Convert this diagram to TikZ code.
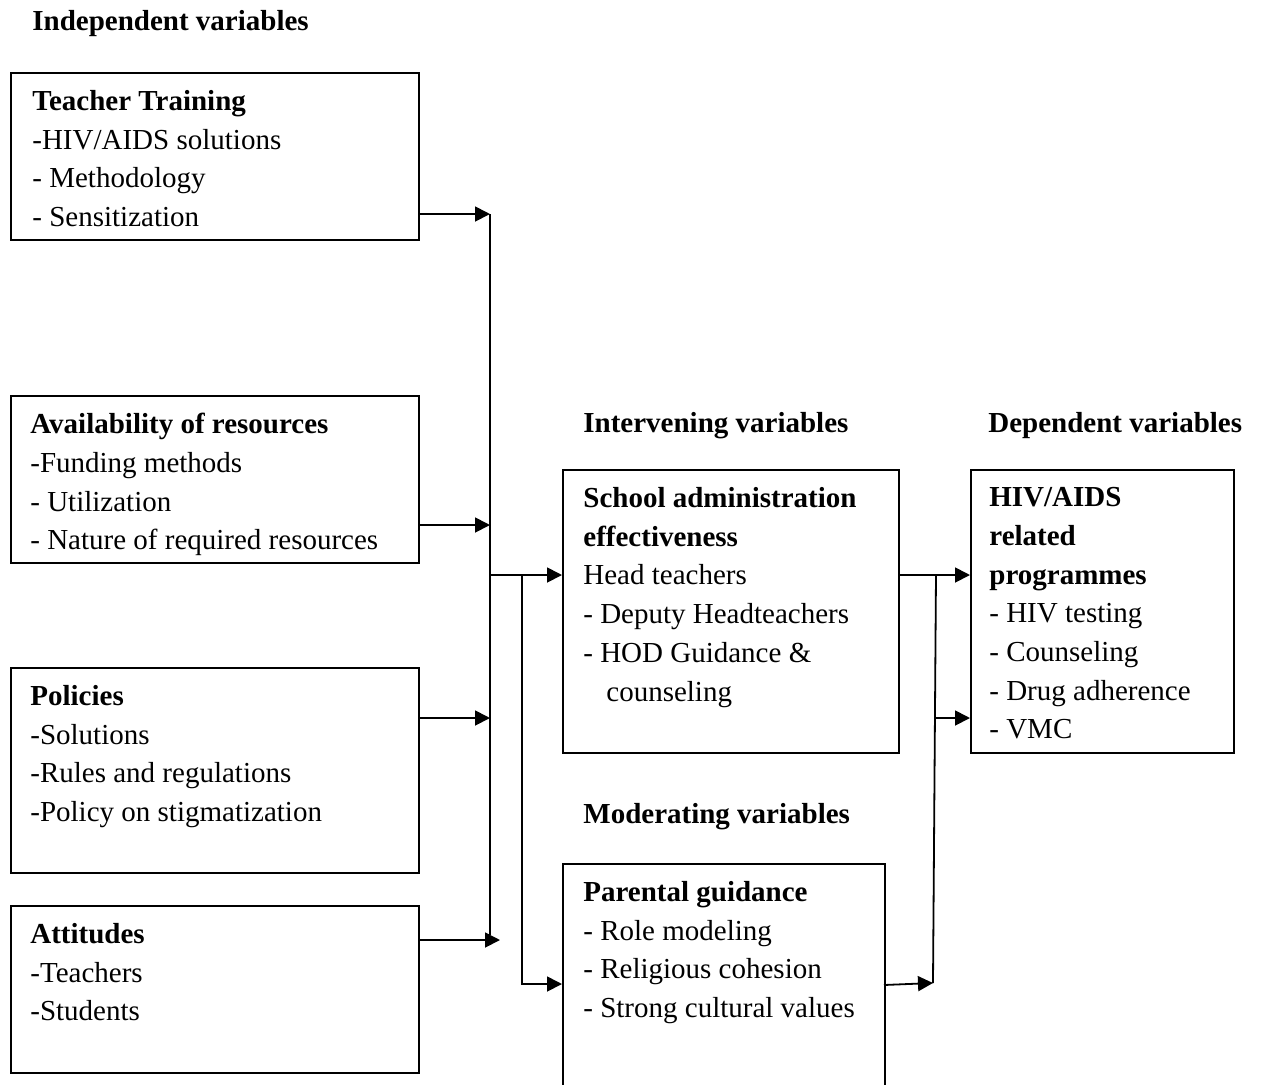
\documentclass[tikz,border=0pt]{standalone}
\usepackage{fontspec}
\setmainfont{Liberation Serif}
\usetikzlibrary{arrows.meta,positioning,calc}
\newcommand{\diagfont}{\fontsize{14.5}{19.35}\selectfont}

\begin{document}
\begin{tikzpicture}[
    x=0.5pt, y=-0.5pt,
    font=\diagfont,
    varbox/.style={rectangle, draw, line width=0.9pt, anchor=north west, inner sep=0pt},
    vartext/.style={anchor=north west, align=left, inner sep=0pt},
    heading/.style={anchor=base west, inner sep=0pt, font=\diagfont\bfseries},
    flow/.style={-{Triangle[length=7.5pt, width=7.5pt]}, line width=0.9pt},
    bus/.style={line width=0.9pt}
]
\clip (0,0) rectangle (1266,1084);

% Column headings
\node[heading] (indep) at (32,30) {Independent variables};
\node[heading] (interv) at (583,432) {Intervening variables};
\node[heading] (depend) at (988,432) {Dependent variables};
\node[heading] (moder) at (583,823) {Moderating variables};

% Independent variable boxes
\node[varbox, minimum width=204pt, minimum height=83.5pt] (train) at (10,72) {};
\node[varbox, minimum width=204pt, minimum height=83.5pt] (avail) at (10,395) {};
\node[varbox, minimum width=204pt, minimum height=102.5pt] (policy) at (10,667) {};
\node[varbox, minimum width=204pt, minimum height=83.5pt] (attit) at (10,905) {};

\node[vartext] (traintxt) at ([shift={(22,18)}]train.north west)
    {\textbf{Teacher Training}\\-HIV/AIDS solutions\\- Methodology\\- Sensitization};
\node[vartext] (availtxt) at ([shift={(20,18)}]avail.north west)
    {\textbf{Availability of resources}\\-Funding methods\\- Utilization\\- Nature of required resources};
\node[vartext] (policytxt) at ([shift={(20,18)}]policy.north west)
    {\textbf{Policies}\\-Solutions\\-Rules and regulations\\-Policy on stigmatization};
\node[vartext] (attittxt) at ([shift={(20,18)}]attit.north west)
    {\textbf{Attitudes}\\-Teachers\\-Students};

% Intervening, moderating and dependent boxes
\node[varbox, minimum width=168pt, minimum height=141.5pt] (admin) at (562,469) {};
\node[varbox, minimum width=161pt, minimum height=125pt] (parent) at (562,863) {};
\node[varbox, minimum width=131.5pt, minimum height=141.5pt] (prog) at (970,469) {};

\node[vartext] (admintxt) at ([shift={(21,18)}]admin.north west)
    {\textbf{School administration}\\\textbf{effectiveness}\\Head teachers\\- Deputy Headteachers\\- HOD Guidance \&\\\hspace*{11.5pt}counseling};
\node[vartext] (parenttxt) at ([shift={(21,18)}]parent.north west)
    {\textbf{Parental guidance}\\- Role modeling\\- Religious cohesion\\- Strong cultural values};
\node[vartext] (progtxt) at ([shift={(19,18)}]prog.north west)
    {\textbf{HIV/AIDS}\\\textbf{related}\\\textbf{programmes}\\- HIV testing\\- Counseling\\- Drug adherence\\- VMC};

% Collecting bus
\coordinate (bt) at (490,214);
\coordinate (ba) at (490,525);
\coordinate (bp) at (490,718);
\coordinate (bb) at (490,935);
\coordinate (bat) at (500,940);
\coordinate (bj) at (490,575);
\coordinate (mj) at (522,575);
\coordinate (mb) at (522,984);

\draw[flow] (train.east |- bt) -- (bt);
\draw[flow] (avail.east |- ba) -- (ba);
\draw[flow] (policy.east |- bp) -- (bp);
\draw[flow] (attit.east |- bat) -- (bat);
\draw[bus] (bt) -- (bb);
\draw[flow] (bj) -- (admin.west |- bj);
\draw[flow] (mj) |- (parent.west |- mb);

% Links to the programmes
\coordinate (rj) at (936,575);
\coordinate (rv) at (936,718);
\coordinate (rb) at (933,983);
\coordinate (pe) at (884,985);

\draw[flow] (admin.east |- rj) -- (prog.west |- rj);
\draw[bus] (rj) -- (rb);
\draw[flow] (rv) -- (prog.west |- rv);
\draw[flow] (pe) -- (rb);

\end{tikzpicture}
\end{document}
